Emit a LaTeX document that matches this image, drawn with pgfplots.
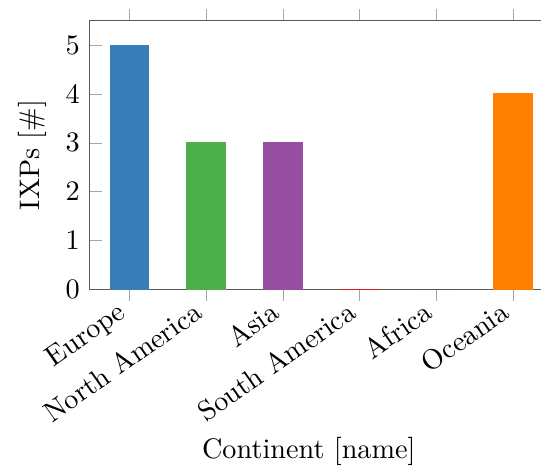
\documentclass[border=0pt]{standalone}
\usepackage{pgfplots}
\usetikzlibrary{calc}
\pgfplotsset{compat=1.18}
\definecolor{setblue}{HTML}{377EB8}
\definecolor{setgreen}{HTML}{4DAF4A}
\definecolor{setpurple}{HTML}{984EA3}
\definecolor{setred}{HTML}{E41A1C}
\definecolor{setgray}{HTML}{555555}
\definecolor{setorange}{HTML}{FF7F00}
\begin{document}
\begin{tikzpicture}
\begin{axis}[
  scale only axis,
  width=164pt, height=95pt,
  ybar, bar width=0.5, bar shift=0pt,
  xmin=-0.52, xmax=5.52,
  ymin=0, ymax=5.5,
  xtick={0,1,2,3,4,5},
  xticklabels={Europe,North America,Asia,South America,Africa,Oceania},
  x tick label style={xshift=-4.5pt, yshift=2pt, rotate=35, anchor=north east, inner sep=1pt},
  ytick={0,1,2,3,4,5},
  xtick align=outside,
  ytick align=inside,
  xtick pos=both,
  ytick pos=both,
  major tick style={black!35},
  axis line style={black!65},
  xlabel={Continent [name]},
  xlabel style={xshift=-4.4pt},
  ylabel={IXPs [\#]},
]
\addplot[fill=setblue, draw=setblue] coordinates {(0,5)};
\addplot[fill=setgreen, draw=setgreen] coordinates {(1,3)};
\addplot[fill=setpurple, draw=setpurple] coordinates {(2,3)};
\addplot[fill=setred, draw=setred] coordinates {(3,0)};
\addplot[fill=setgray, draw=setgray] coordinates {(4,0)};
\addplot[fill=setorange, draw=setorange] coordinates {(5,4)};
\end{axis}
\pgfresetboundingbox
\path[use as bounding box]
  ($(current axis.outer south west)+(-3pt,0pt)$)
  rectangle
  ($(current axis.outer north -| current axis.south east)+(-4.2pt,3pt)$);
\end{tikzpicture}
\end{document}
